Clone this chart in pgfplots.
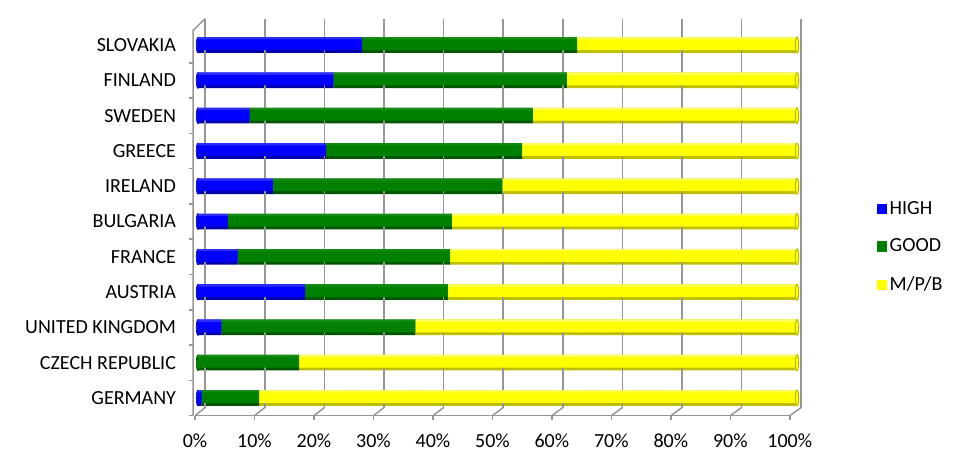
\documentclass[border=0pt]{standalone}
\usepackage{pgfplots}
\usepackage{pgfplotstable}
\usepackage{fontspec}
\setmainfont{Carlito}
\pgfplotsset{compat=1.18}
\definecolor{hiL}{RGB}{45,45,255}
\definecolor{hiM}{RGB}{0,0,255}
\definecolor{hiD}{RGB}{0,0,170}
\definecolor{gdL}{RGB}{20,140,20}
\definecolor{gdM}{RGB}{0,128,0}
\definecolor{gdD}{RGB}{0,85,0}
\definecolor{ywL}{RGB}{255,255,90}
\definecolor{ywM}{RGB}{255,255,0}
\definecolor{ywD}{RGB}{190,190,0}
\definecolor{gridc}{RGB}{150,150,150}
\pgfplotstableread{
k high good mpb
0 0.6 9.6 89.8
1 0.0 16.9 83.1
2 3.9 32.4 63.7
3 17.9 23.8 58.3
4 6.6 35.5 57.9
5 5.0 37.4 57.6
6 12.5 38.3 49.2
7 21.4 32.7 45.9
8 8.6 47.3 44.1
9 22.6 39.0 38.4
10 27.4 35.9 36.7
}\data
\pgfplotsset{common/.style={
  at={(144pt,41.5pt)}, anchor=south west,
  scale only axis, width=453.74pt, height=297.75pt,
  xmin=-1, xmax=100, ymin=-0.5, ymax=10.75, clip=false}}
\begin{document}
\begin{tikzpicture}
\path[use as bounding box] (0,0) rectangle (720.75pt,353.25pt);
\begin{axis}[common,
  xbar stacked, bar width=0.44,
  axis line style={draw=none},
  major tick length=0pt,
  ytick={0,...,10},
  yticklabels={GERMANY,CZECH REPUBLIC,UNITED KINGDOM,AUSTRIA,FRANCE,BULGARIA,IRELAND,GREECE,SWEDEN,FINLAND,SLOVAKIA},
  xtick={-0.5,9.43,19.36,29.29,39.22,49.15,59.08,69.01,78.94,88.87,98.8},
  xticklabels={0\%,10\%,20\%,30\%,40\%,50\%,60\%,70\%,80\%,90\%,100\%},
  ticklabel style={font=\fontsize{15}{18}\selectfont, text=black},
  xticklabel style={yshift=-10pt},
  yticklabel style={xshift=-8.5pt},
  legend image code/.code={\fill[#1] (0pt,-3.8pt) rectangle (7.6pt,3.8pt);},
  legend style={draw=none, fill=none, at={(1.125,0.425)}, anchor=west,
    font=\fontsize{15}{18}\selectfont, row sep=13pt, cells={anchor=west}},
]
\pgfplotsinvokeforeach{0,10,20,30,40,50,60,70,80,90,100}{
  \draw[gridc, line width=1.1pt] (axis cs:{1.2+0.995*#1},-0.27) -- (axis cs:{1.2+0.995*#1},10.75);
  \draw[gridc, line width=1.1pt] (axis cs:{-0.5+0.993*#1},-0.5) -- (axis cs:{1.2+0.995*#1},-0.27);
  \draw[gridc, line width=1.1pt] (axis cs:{-0.5+0.993*#1},-0.5) -- (axis cs:{-0.5+0.993*#1},-0.63);
}
\draw[gridc, line width=1.1pt] (axis cs:-0.5,-0.5) -- (axis cs:98.8,-0.5);
\draw[gridc, line width=1.1pt] (axis cs:-0.8,-0.5) -- (axis cs:-0.8,10.42) -- (axis cs:1.2,10.75);
\pgfplotsinvokeforeach{-0.5,0.5,1.5,2.5,3.5,4.5,5.5,6.5,7.5,8.5,9.5}{
  \draw[gridc, line width=1.1pt] (axis cs:-0.8,#1) -- (axis cs:-1.5,#1);
}
\addplot[forget plot, draw=none, fill=hiD] table[x=high,y=k]{\data};
\addplot[forget plot, draw=none, fill=gdD] table[x=good,y=k]{\data};
\addplot[forget plot, draw=none, fill=ywD] table[x=mpb,y=k]{\data};
\addlegendimage{fill=hiM, draw=none}
\addlegendentry{HIGH}
\addlegendimage{fill=gdM, draw=none}
\addlegendentry{GOOD}
\addlegendimage{fill=ywM, draw=none}
\addlegendentry{M/P/B}
\end{axis}
% rounded left ends of the bars
\begin{axis}[common, axis lines=none, ticks=none]
\addplot[only marks, mark=*, mark size=5.9pt,
  mark options={xscale=0.22, fill=hiM, draw=hiD, line width=0.5pt}]
  coordinates {(0,0) (0,2) (0,3) (0,4) (0,5) (0,6) (0,7) (0,8) (0,9) (0,10)};
\addplot[only marks, mark=*, mark size=5.9pt,
  mark options={xscale=0.22, fill=gdM, draw=gdD, line width=0.5pt}]
  coordinates {(0,1)};
\end{axis}
% main body of the bars
\begin{axis}[common, axis lines=none, ticks=none,
  xbar stacked, bar width=0.36, bar shift=0.04]
\addplot[draw=none, fill=hiM] table[x=high,y=k]{\data};
\addplot[draw=none, fill=gdM] table[x=good,y=k]{\data};
\addplot[draw=none, fill=ywM] table[x=mpb,y=k]{\data};
\end{axis}
% light top band
\begin{axis}[common, axis lines=none, ticks=none,
  xbar stacked, bar width=0.06, bar shift=0.19]
\addplot[draw=none, fill=hiL] table[x=high,y=k]{\data};
\addplot[draw=none, fill=gdL] table[x=good,y=k]{\data};
\addplot[draw=none, fill=ywL] table[x=mpb,y=k]{\data};
\end{axis}
% round right end caps of the bars
\begin{axis}[common, axis lines=none, ticks=none]
\addplot[only marks, mark=*, mark size=5.9pt,
  mark options={xscale=0.22, fill=ywM, draw=ywD, line width=0.8pt}]
  coordinates {(100,0) (100,1) (100,2) (100,3) (100,4) (100,5) (100,6) (100,7) (100,8) (100,9) (100,10)};
\end{axis}
\end{tikzpicture}
\end{document}
